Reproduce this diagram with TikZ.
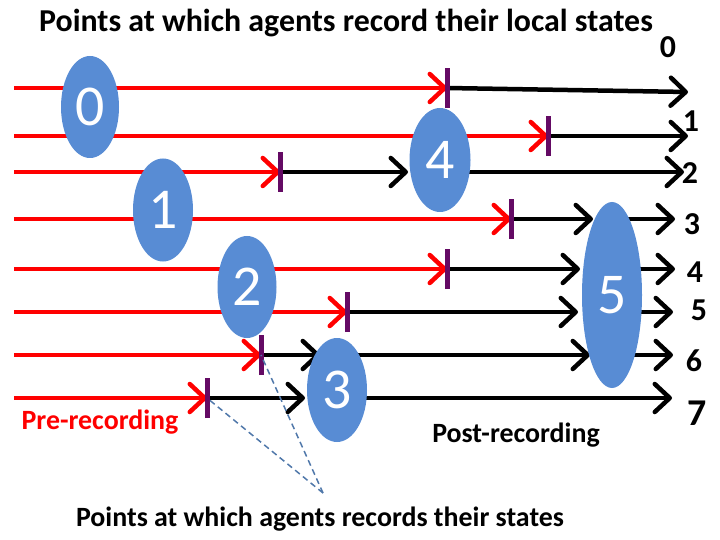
\documentclass[tikz,border=0pt]{standalone}
\usepackage{fontspec}
\setmainfont{Carlito}
\usetikzlibrary{arrows.meta,shapes.geometric}
\definecolor{ellblue}{RGB}{88,140,212}
\definecolor{tickpurple}{RGB}{100,10,100}
\definecolor{dashblue}{RGB}{80,120,170}
\definecolor{redline}{RGB}{255,0,0}
\tikzset{
  pre/.style={draw=redline,line width=4.5bp,-{Straight Barb[length=15bp,width=28bp,line width=4.5bp,round]}},
  post/.style={draw=black,line width=4.5bp,-{Straight Barb[length=15bp,width=28bp,line width=4.5bp,round]}},
  tickmark/.style={draw=tickpurple,line width=5bp},
  agent/.style={ellipse,fill=ellblue,draw=none,inner sep=0pt,text=white,font=\fontsize{58}{58}\selectfont},
  rowlab/.style={font=\bfseries\fontsize{32}{32}\selectfont,inner sep=0pt},
  guide/.style={draw=dashblue,line width=1.5bp,dash pattern=on 6bp off 4bp},
  caption/.style={font=\bfseries\fontsize{28}{28}\selectfont,inner sep=0pt},
  titlecap/.style={font=\bfseries\fontsize{32}{32}\selectfont,inner sep=0pt}
}
\begin{document}
\begin{tikzpicture}[x=1bp,y=-1bp]
\useasboundingbox (0,0) rectangle (720,540);
% start points
\coordinate (s0) at (14,88);
\coordinate (s1) at (14,136);
\coordinate (s2) at (14,172);
\coordinate (s3) at (14,219);
\coordinate (s4) at (14,269);
\coordinate (s5) at (14,312);
\coordinate (s6) at (14,355);
\coordinate (s7) at (14,398);
% recording points
\coordinate (r0) at (447,88);
\coordinate (r1) at (548,136);
\coordinate (r2) at (280,172);
\coordinate (r3) at (511,219);
\coordinate (r4) at (447,269);
\coordinate (r5) at (347,312);
\coordinate (r6) at (261,355);
\coordinate (r7) at (207,398);
% ends
\coordinate (t0) at (688,92);
\coordinate (t1) at (688,136);
\coordinate (t2) at (684,172);
\coordinate (t3) at (675,219);
\coordinate (t4) at (675,269);
\coordinate (t5) at (673,312);
\coordinate (t6) at (673,355);
\coordinate (t7) at (672,398);
% red pre-recording arrows
\foreach \i in {0,...,7} { \draw[pre] (s\i) -- (r\i); }
% black post-recording arrows
\draw[post] (r0) -- (t0);
\draw[post] (r1) -- (t1);
\draw[post] (r2) -- (408,172) coordinate (a2);
\draw[post] (440,172) coordinate (b2) -- (t2);
\draw[post] (r3) -- (593,219) coordinate (a3);
\draw[post] (612,219) coordinate (b3) -- (t3);
\draw[post] (r4) -- (580,269) coordinate (a4);
\draw[post] (612,269) coordinate (b4) -- (t4);
\draw[post] (r5) -- (578,312) coordinate (a5);
\draw[post] (612,312) coordinate (b5) -- (t5);
\draw[post] (r6) -- (320,355) coordinate (a6);
\draw[post] (337,355) coordinate (c6) -- (590,355) coordinate (d6);
\draw[post] (612,355) coordinate (b6) -- (t6);
\draw[post] (r7) -- (305,398) coordinate (a7);
\draw[post] (337,398) coordinate (b7) -- (t7);
% ticks
\foreach \i in {0,...,7} { \draw[tickmark] ([yshift=-20bp]r\i) -- ([yshift=20bp]r\i); }
% agents
\node[agent,minimum width=58bp,minimum height=102bp] (e0) at (90,107) {0};
\node[agent,minimum width=60bp,minimum height=103bp] (e1) at (163,210) {1};
\node[agent,minimum width=59bp,minimum height=102bp] (e2) at (247,287) {2};
\node[agent,minimum width=60bp,minimum height=104bp] (e3) at (337,390) {3};
\node[agent,minimum width=61bp,minimum height=104bp] (e4) at (440,160) {4};
\node[agent,minimum width=60bp,minimum height=186bp] (e5) at (612,295) {5};
% row labels
\node[rowlab] (l0) at (668,47) {0};
\node[rowlab] (l1) at (691,121) {1};
\node[rowlab] (l2) at (690,173) {2};
\node[rowlab] (l3) at (692,224) {3};
\node[rowlab] (l4) at (695,272) {4};
\node[rowlab] (l5) at (699,310) {5};
\node[rowlab] (l6) at (694,361) {6};
\node[rowlab,font=\bfseries\fontsize{38}{38}\selectfont] (l7) at (697,413) {7};
% texts
\node[titlecap] (title) at (346,23) {Points at which agents record their local states};
\node[caption,text=redline] (prelab) at (100,422) {Pre-recording};
\node[caption] (postlab) at (516,435) {Post-recording};
\node[caption] (bottom) at (320,519) {Points at which agents records their states};
% dashed guides
\coordinate (g) at (323,493);
\draw[guide] (g) -- (r6);
\draw[guide] (g) -- (r7);
\end{tikzpicture}
\end{document}
